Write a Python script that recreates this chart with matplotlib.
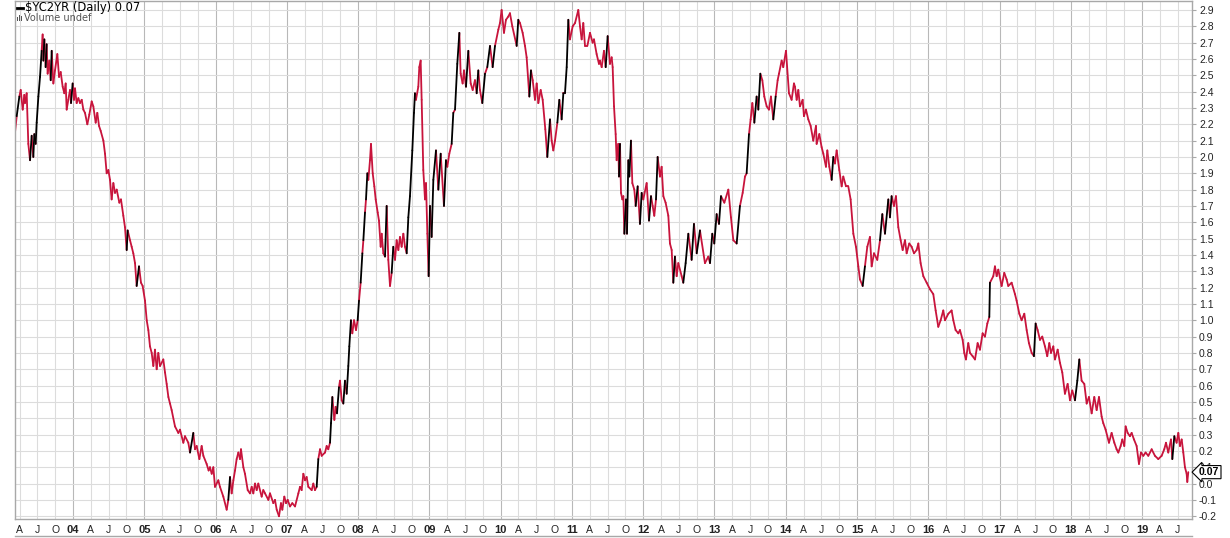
import numpy as np
import matplotlib
matplotlib.use("Agg")
import matplotlib.pyplot as plt
from matplotlib.collections import LineCollection
from matplotlib.lines import Line2D
from matplotlib.patches import Rectangle

# $YC2YR daily (10y - 2y spread) ---------------------------------------------
# time as decimal year, value in percent
t_year = [
    # 2003
    2003.186, 2003.210, 2003.247, 2003.266, 2003.294, 2003.317, 2003.326, 2003.350,
    2003.373, 2003.397, 2003.420, 2003.443, 2003.457, 2003.476, 2003.490, 2003.514,
    2003.537, 2003.560, 2003.574, 2003.584, 2003.598, 2003.616, 2003.630, 2003.644,
    2003.668, 2003.687, 2003.701, 2003.724, 2003.747, 2003.780, 2003.804, 2003.827,
    2003.855, 2003.878, 2003.897, 2003.911, 2003.934, 2003.958, 2003.972, 2003.995,
    # 2004
    2004.014, 2004.028, 2004.051, 2004.075, 2004.098, 2004.122, 2004.145, 2004.168,
    2004.201, 2004.229, 2004.262, 2004.285, 2004.318, 2004.341, 2004.365, 2004.388,
    2004.426, 2004.449, 2004.472, 2004.496, 2004.519, 2004.542, 2004.566, 2004.589,
    2004.613, 2004.650, 2004.673, 2004.706, 2004.729, 2004.753, 2004.767, 2004.800,
    2004.823, 2004.846, 2004.870, 2004.893, 2004.926, 2004.954, 2004.977,
    # 2005
    2005.010, 2005.034, 2005.057, 2005.080, 2005.104, 2005.127, 2005.150, 2005.174,
    2005.197, 2005.221, 2005.267, 2005.291, 2005.314, 2005.338, 2005.361, 2005.384,
    2005.431, 2005.478, 2005.501, 2005.548, 2005.571, 2005.618, 2005.642, 2005.688,
    2005.712, 2005.735, 2005.773, 2005.805, 2005.829, 2005.875, 2005.903, 2005.922,
    2005.946, 2005.969, 2005.992,
    # 2006
    2006.039, 2006.062, 2006.109, 2006.156, 2006.179, 2006.203, 2006.226, 2006.250,
    2006.273, 2006.296, 2006.320, 2006.343, 2006.357, 2006.390, 2006.413, 2006.451,
    2006.483, 2006.507, 2006.530, 2006.554, 2006.577, 2006.600, 2006.647, 2006.670,
    2006.694, 2006.741, 2006.764, 2006.811, 2006.834, 2006.858, 2006.890, 2006.918,
    2006.937, 2006.965, 2006.989,
    # 2007
    2007.012, 2007.045, 2007.077, 2007.115, 2007.162, 2007.185, 2007.208, 2007.232,
    2007.255, 2007.278, 2007.302, 2007.349, 2007.372, 2007.395, 2007.419, 2007.442,
    2007.466, 2007.489, 2007.536, 2007.559, 2007.582, 2007.606, 2007.620, 2007.639,
    2007.667, 2007.685, 2007.704, 2007.732, 2007.746, 2007.770, 2007.793, 2007.816,
    2007.840, 2007.863, 2007.877, 2007.900, 2007.919, 2007.943, 2007.971, 2007.994,
    # 2008
    2008.013, 2008.036, 2008.060, 2008.074, 2008.097, 2008.111, 2008.130, 2008.144,
    2008.167, 2008.181, 2008.205, 2008.228, 2008.247, 2008.275, 2008.293, 2008.317,
    2008.331, 2008.354, 2008.378, 2008.401, 2008.424, 2008.448, 2008.471, 2008.494,
    2008.518, 2008.541, 2008.565, 2008.588, 2008.611, 2008.635, 2008.658, 2008.682,
    2008.705, 2008.728, 2008.761, 2008.784, 2008.798, 2008.812, 2008.845, 2008.859,
    2008.878, 2008.892, 2008.915, 2008.939, 2008.953, 2008.972, 2008.990,
    # 2009
    2009.009, 2009.032, 2009.056, 2009.093, 2009.126, 2009.159, 2009.205, 2009.233,
    2009.252, 2009.280, 2009.313, 2009.336, 2009.360, 2009.392, 2009.421, 2009.439,
    2009.467, 2009.486, 2009.514, 2009.547, 2009.580, 2009.608, 2009.640, 2009.664,
    2009.687, 2009.710, 2009.743, 2009.781, 2009.813, 2009.851, 2009.888, 2009.921,
    2009.968, 2009.991,
    # 2010
    2010.014, 2010.047, 2010.075, 2010.108, 2010.131, 2010.164, 2010.225, 2010.248,
    2010.272, 2010.309, 2010.342, 2010.365, 2010.403, 2010.426, 2010.450, 2010.482,
    2010.506, 2010.529, 2010.562, 2010.590, 2010.627, 2010.655, 2010.693, 2010.716,
    2010.739, 2010.763, 2010.796, 2010.824, 2010.856, 2010.880, 2010.903, 2010.927,
    2010.950, 2010.973,
    # 2011
    2011.011, 2011.044, 2011.090, 2011.114, 2011.137, 2011.160, 2011.184, 2011.217,
    2011.254, 2011.291, 2011.310, 2011.347, 2011.380, 2011.394, 2011.418, 2011.450,
    2011.474, 2011.502, 2011.534, 2011.558, 2011.572, 2011.591, 2011.614, 2011.628,
    2011.651, 2011.661, 2011.675, 2011.689, 2011.708, 2011.722, 2011.736, 2011.759,
    2011.773, 2011.792, 2011.806, 2011.829, 2011.848, 2011.876, 2011.895, 2011.923,
    2011.955, 2011.979,
    # 2012
    2012.002, 2012.049, 2012.082, 2012.110, 2012.133, 2012.156, 2012.180, 2012.203,
    2012.236, 2012.259, 2012.283, 2012.315, 2012.353, 2012.376, 2012.400, 2012.423,
    2012.446, 2012.470, 2012.493, 2012.540, 2012.563, 2012.596, 2012.634, 2012.680,
    2012.713, 2012.751, 2012.797, 2012.867, 2012.914, 2012.938, 2012.970, 2012.998,
    # 2013
    2013.031, 2013.064, 2013.092, 2013.139, 2013.195, 2013.232, 2013.265, 2013.312,
    2013.358, 2013.396, 2013.429, 2013.452, 2013.485, 2013.508, 2013.532, 2013.560,
    2013.592, 2013.616, 2013.644, 2013.672, 2013.700, 2013.733, 2013.765, 2013.793,
    2013.826, 2013.859, 2013.887, 2013.906, 2013.943, 2013.966,
    # 2014
    2014.004, 2014.046, 2014.083, 2014.116, 2014.130, 2014.154, 2014.177, 2014.200,
    2014.238, 2014.256, 2014.284, 2014.317, 2014.350, 2014.387, 2014.425, 2014.434,
    2014.472, 2014.504, 2014.528, 2014.565, 2014.584, 2014.612, 2014.645, 2014.668,
    2014.691, 2014.715, 2014.752, 2014.785, 2014.808, 2014.846, 2014.878, 2014.911,
    2014.949, 2014.986,
    # 2015
    2015.019, 2015.042, 2015.080, 2015.112, 2015.145, 2015.182, 2015.206, 2015.239,
    2015.285, 2015.323, 2015.356, 2015.393, 2015.440, 2015.463, 2015.486, 2015.519,
    2015.547, 2015.580, 2015.613, 2015.641, 2015.674, 2015.697, 2015.734, 2015.767,
    2015.800, 2015.837, 2015.861, 2015.893, 2015.931, 2015.978,
    # 2016
    2016.024, 2016.071, 2016.104, 2016.141, 2016.174, 2016.211, 2016.235, 2016.282,
    2016.328, 2016.352, 2016.384, 2016.422, 2016.445, 2016.483, 2016.506, 2016.529,
    2016.562, 2016.586, 2016.623, 2016.656, 2016.693, 2016.726, 2016.763, 2016.796,
    2016.829, 2016.857, 2016.866, 2016.913, 2016.936, 2016.960, 2016.983,
    # 2017
    2017.030, 2017.067, 2017.100, 2017.123, 2017.170, 2017.217, 2017.240, 2017.278,
    2017.310, 2017.348, 2017.381, 2017.413, 2017.451, 2017.483, 2017.507, 2017.535,
    2017.568, 2017.600, 2017.638, 2017.670, 2017.699, 2017.722, 2017.755, 2017.778,
    2017.816, 2017.848, 2017.881, 2017.918, 2017.956, 2017.989,
    # 2018
    2018.021, 2018.059, 2018.092, 2018.120, 2018.152, 2018.190, 2018.223, 2018.255,
    2018.293, 2018.330, 2018.363, 2018.396, 2018.433, 2018.456, 2018.489, 2018.536,
    2018.573, 2018.611, 2018.643, 2018.667, 2018.700, 2018.723, 2018.751, 2018.770,
    2018.798, 2018.830, 2018.854, 2018.887, 2018.924, 2018.957, 2018.985,
    # 2019
    2019.018, 2019.050, 2019.088, 2019.135, 2019.181, 2019.228, 2019.275, 2019.312,
    2019.336, 2019.368, 2019.406, 2019.425, 2019.453, 2019.485, 2019.509, 2019.532,
    2019.556, 2019.579, 2019.602, 2019.626, 2019.635, 2019.649,
]

spread = [
    # 2003
    2.15, 2.25, 2.37, 2.41, 2.29, 2.38, 2.33, 2.39,
    2.08, 1.98, 2.13, 2.00, 2.14, 2.08, 2.21, 2.37,
    2.49, 2.65, 2.75, 2.59, 2.72, 2.55, 2.69, 2.51,
    2.59, 2.47, 2.65, 2.45, 2.53, 2.63, 2.49, 2.52,
    2.43, 2.39, 2.45, 2.29, 2.35, 2.41, 2.33, 2.45,
    # 2004
    2.35, 2.42, 2.33, 2.36, 2.33, 2.35, 2.29, 2.27,
    2.20, 2.26, 2.34, 2.31, 2.21, 2.27, 2.19, 2.16,
    2.10, 2.02, 1.90, 1.92, 1.86, 1.74, 1.84, 1.78,
    1.80, 1.72, 1.74, 1.64, 1.57, 1.43, 1.55, 1.49,
    1.45, 1.41, 1.35, 1.21, 1.33, 1.23, 1.21,
    # 2005
    1.12, 1.00, 0.94, 0.84, 0.80, 0.72, 0.82, 0.70,
    0.80, 0.72, 0.76, 0.68, 0.61, 0.53, 0.49, 0.45,
    0.35, 0.31, 0.33, 0.25, 0.29, 0.25, 0.19, 0.31,
    0.21, 0.23, 0.15, 0.23, 0.17, 0.12, 0.08, 0.10,
    0.06, 0.10, -0.02,
    # 2006
    0.02, -0.02, -0.08, -0.16, -0.10, 0.04, -0.06, 0.02,
    0.08, 0.15, 0.19, 0.15, 0.21, 0.10, 0.06, -0.04,
    -0.06, -0.02, -0.06, 0.00, -0.04, 0.00, -0.08, -0.04,
    -0.06, -0.10, -0.06, -0.12, -0.10, -0.16, -0.20, -0.12,
    -0.16, -0.08, -0.12,
    # 2007
    -0.10, -0.14, -0.12, -0.14, -0.06, -0.02, -0.04, 0.06,
    0.02, 0.04, -0.02, -0.04, 0.00, -0.04, -0.02, 0.15,
    0.21, 0.17, 0.19, 0.23, 0.21, 0.25, 0.37, 0.53,
    0.39, 0.47, 0.43, 0.59, 0.63, 0.51, 0.49, 0.63,
    0.55, 0.72, 0.84, 1.00, 0.92, 1.00, 0.94, 1.00,
    # 2008
    1.12, 1.23, 1.41, 1.49, 1.66, 1.74, 1.90, 1.86,
    1.98, 2.08, 1.90, 1.82, 1.74, 1.66, 1.61, 1.45,
    1.53, 1.41, 1.39, 1.70, 1.37, 1.21, 1.29, 1.45,
    1.37, 1.49, 1.43, 1.51, 1.45, 1.53, 1.45, 1.41,
    1.63, 1.76, 2.04, 2.27, 2.39, 2.35, 2.43, 2.55,
    2.59, 2.35, 1.92, 1.74, 1.84, 1.53, 1.27,
    # 2009
    1.70, 1.51, 1.86, 2.04, 1.80, 2.02, 1.70, 1.98,
    1.94, 2.02, 2.08, 2.27, 2.29, 2.57, 2.76, 2.51,
    2.45, 2.53, 2.43, 2.65, 2.45, 2.41, 2.47, 2.39,
    2.53, 2.41, 2.33, 2.51, 2.55, 2.68, 2.55, 2.68,
    2.78, 2.82,
    # 2010
    2.90, 2.76, 2.84, 2.86, 2.88, 2.80, 2.68, 2.84,
    2.82, 2.76, 2.68, 2.61, 2.37, 2.53, 2.47, 2.35,
    2.45, 2.33, 2.41, 2.35, 2.17, 2.00, 2.23, 2.10,
    2.04, 2.10, 2.21, 2.35, 2.23, 2.39, 2.39, 2.55,
    2.84, 2.72,
    # 2011
    2.80, 2.82, 2.90, 2.80, 2.72, 2.82, 2.68, 2.68,
    2.76, 2.70, 2.72, 2.63, 2.57, 2.59, 2.55, 2.65,
    2.55, 2.74, 2.57, 2.61, 2.55, 2.31, 2.14, 1.98,
    2.08, 1.88, 2.08, 1.78, 1.74, 1.76, 1.53, 1.74,
    1.53, 1.98, 1.88, 2.10, 1.84, 1.80, 1.70, 1.82,
    1.59, 1.78,
    # 2012
    1.74, 1.84, 1.61, 1.76, 1.70, 1.64, 1.74, 2.00,
    1.88, 1.94, 1.76, 1.72, 1.64, 1.47, 1.43, 1.23,
    1.39, 1.27, 1.35, 1.27, 1.23, 1.35, 1.53, 1.37,
    1.59, 1.41, 1.55, 1.35, 1.39, 1.35, 1.53, 1.47,
    # 2013
    1.65, 1.59, 1.76, 1.72, 1.80, 1.63, 1.49, 1.47,
    1.70, 1.78, 1.88, 1.90, 2.14, 2.23, 2.33, 2.21,
    2.37, 2.29, 2.51, 2.47, 2.37, 2.31, 2.29, 2.37,
    2.23, 2.37, 2.47, 2.51, 2.59, 2.55,
    # 2014
    2.65, 2.39, 2.35, 2.45, 2.43, 2.35, 2.41, 2.31,
    2.35, 2.25, 2.29, 2.23, 2.19, 2.10, 2.19, 2.08,
    2.14, 2.06, 2.02, 1.94, 2.04, 1.94, 1.86, 2.00,
    1.96, 2.04, 1.92, 1.82, 1.88, 1.82, 1.82, 1.74,
    1.53, 1.45,
    # 2015
    1.33, 1.25, 1.21, 1.33, 1.45, 1.51, 1.33, 1.41,
    1.37, 1.49, 1.65, 1.53, 1.74, 1.63, 1.76, 1.70,
    1.76, 1.57, 1.49, 1.43, 1.49, 1.41, 1.47, 1.45,
    1.41, 1.43, 1.47, 1.35, 1.27, 1.23,
    # 2016
    1.19, 1.16, 1.06, 0.96, 1.00, 1.06, 1.00, 1.04,
    1.06, 1.00, 0.94, 0.92, 0.94, 0.88, 0.80, 0.76,
    0.86, 0.80, 0.78, 0.76, 0.86, 0.82, 0.92, 0.90,
    0.98, 1.02, 1.23, 1.27, 1.33, 1.27, 1.31,
    # 2017
    1.21, 1.29, 1.25, 1.21, 1.23, 1.16, 1.12, 1.04,
    1.00, 1.04, 0.94, 0.86, 0.80, 0.78, 0.98, 0.94,
    0.88, 0.90, 0.84, 0.78, 0.86, 0.80, 0.84, 0.76,
    0.82, 0.74, 0.68, 0.55, 0.61, 0.51,
    # 2018
    0.57, 0.51, 0.63, 0.76, 0.63, 0.61, 0.49, 0.53,
    0.43, 0.53, 0.45, 0.53, 0.41, 0.37, 0.33, 0.25,
    0.31, 0.25, 0.21, 0.19, 0.23, 0.27, 0.23, 0.35,
    0.31, 0.29, 0.31, 0.27, 0.23, 0.12, 0.19,
    # 2019
    0.17, 0.19, 0.17, 0.21, 0.17, 0.15, 0.17, 0.21,
    0.25, 0.19, 0.27, 0.15, 0.29, 0.25, 0.31, 0.23,
    0.27, 0.19, 0.10, 0.06, 0.01, 0.07,
]

last_value = 0.07
symbol = "$YC2YR"
y_ticks = [round(-0.2 + 0.1 * i, 1) for i in range(32)]
quarter_names = {0: None, 1: "A", 2: "J", 3: "O"}

# Figure -----------------------------------------------------------------
W, H = 1230, 538
fig = plt.figure(figsize=(W / 100, H / 100), dpi=100)
fig.patch.set_facecolor("white")

ax = fig.add_axes([15 / W, 19 / H, 1177 / W, 518 / H])
ax.set_xlim(2003.186, 2019.701)
ax.set_ylim(-0.217, 2.955)

# grid: quarters light, years darker
grid_light = "#dcdcdc"
grid_dark = "#b8b8b8"
q_ticks, q_labels = [], []
for yr in range(2003, 2020):
    for q in range(4):
        tq = yr + q * 0.25
        if tq < 2003.186 or tq > 2019.701:
            continue
        q_ticks.append(tq)
        q_labels.append(quarter_names[q] or "%02d" % (yr % 100))
        ax.axvline(tq, color=grid_dark if q == 0 else grid_light, lw=0.8, zorder=0)
for v in y_ticks:
    ax.axhline(v, color=grid_light, lw=0.8, zorder=0)

# up/down coloured line: strong up moves show black, the rest red
t = np.array(t_year)
v = np.array(spread)
pts = np.column_stack([t, v])
segs = np.stack([pts[:-1], pts[1:]], axis=1)
up = np.diff(v) >= 0.12
ax.add_collection(LineCollection(segs[up], colors="black", linewidths=1.3, zorder=3,
                                 capstyle="round", joinstyle="round"))
ax.add_collection(LineCollection(segs[~up], colors="#c8143c", linewidths=1.3, zorder=2,
                                 capstyle="round", joinstyle="round"))

# axes styling
for s in ax.spines.values():
    s.set_color("#a8a8a8")
    s.set_linewidth(1.0)
ax.yaxis.tick_right()
ax.set_yticks(y_ticks)
ax.set_yticklabels(["%.1f" % y for y in y_ticks])
ax.tick_params(axis="y", direction="out", length=3, width=0.8, color="#a8a8a8",
               labelsize=7.5, pad=2, labelcolor="#222222")
ax.set_xticks(q_ticks)
ax.set_xticklabels(q_labels)
ax.tick_params(axis="x", direction="out", length=0, labelsize=7.5, pad=4,
               labelcolor="#222222")
for lab in ax.get_xticklabels():
    if lab.get_text().isdigit():
        lab.set_fontweight("bold")
        lab.set_fontsize(8)
for lab in ax.get_xticklabels() + ax.get_yticklabels():
    lab.set_family(["Liberation Sans", "DejaVu Sans"])

# bottom line under the date labels
fig.add_artist(Line2D([15 / W, 1192 / W], [1 - 536 / H, 1 - 536 / H],
                      color="#a8a8a8", lw=1.0))

# last value tag (sits over the 0.1 label, as in the original)
ax.text(1.006, last_value, "%.2f" % last_value, transform=ax.get_yaxis_transform(),
        ha="left", va="center", fontsize=7.5, fontweight="bold", zorder=5,
        family=["Liberation Sans", "DejaVu Sans"], clip_on=False,
        bbox=dict(boxstyle="larrow,pad=0.15", fc="white", ec="black", lw=0.8))

# legend text top-left
fig.add_artist(Line2D([17 / W, 23 / W], [1 - 8 / H, 1 - 8 / H], color="black", lw=2))
fig.text(25 / W, 1 - 8 / H, symbol.replace("$", r"\$") + " (Daily) %.2f" % last_value,
         fontsize=8.3, va="center", ha="left", family="DejaVu Sans")
for i, hgt in enumerate([4, 6, 5]):
    fig.add_artist(Rectangle(((17 + i * 2) / W, 1 - 21 / H), 1.4 / W, hgt / H,
                             transform=fig.transFigure, color="#555555", lw=0))
fig.text(24 / W, 1 - 18 / H, "Volume undef", fontsize=7, va="center", ha="left",
         color="#555555", family="DejaVu Sans")

fig.savefig("out.png", dpi=100, facecolor="white")
